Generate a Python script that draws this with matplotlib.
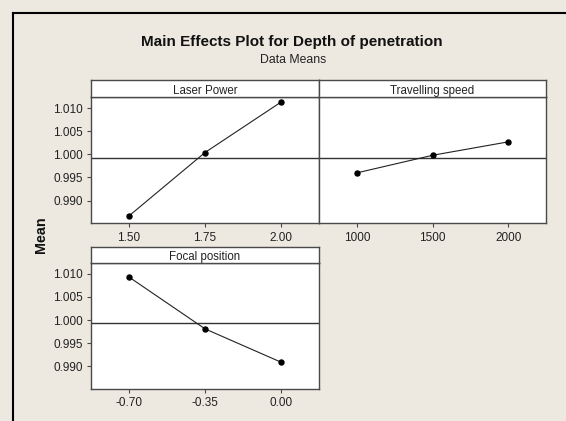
import matplotlib
matplotlib.use('Agg')
import matplotlib.pyplot as plt
from matplotlib.lines import Line2D

plt.rcParams['font.family'] = ['Liberation Sans', 'DejaVu Sans']

# data means
laser_power = [1.50, 1.75, 2.00]
laser_means = [0.9867, 1.0004, 1.0113]

speed = [1000, 1500, 2000]
speed_means = [0.9960, 0.9998, 1.0027]

focal = [-0.70, -0.35, 0.00]
focal_means = [1.0093, 0.9981, 0.9909]

laser_ticks = ['1.50', '1.75', '2.00']
speed_ticks = ['1000', '1500', '2000']
focal_ticks = ['-0.70', '-0.35', '0.00']

y_ticks = [0.990, 0.995, 1.000, 1.005, 1.010]
grand_mean = 0.9993

bg = '#EDE9E0'
edge = '#4a4a4a'

W, H = 566, 421
fig = plt.figure(figsize=(W / 100, H / 100), dpi=100, facecolor=bg)


def box(x0, y0, x1, y1):
    # pixel box (top-left origin) -> figure fraction rect
    return [x0 / W, (H - y1) / H, (x1 - x0) / W, (y1 - y0) / H]


def strip(rect, label):
    s = fig.add_axes(rect)
    s.set_facecolor('white')
    s.set_xticks([])
    s.set_yticks([])
    for sp in s.spines.values():
        sp.set_color(edge)
        sp.set_linewidth(1.0)
    s.text(0.5, 0.42, label, ha='center', va='center_baseline', fontsize=8.3,
           color='#222222', transform=s.transAxes)
    return s


def panel(rect, x, y, xticks, xlabels, xlim, show_y=True):
    ax = fig.add_axes(rect)
    ax.set_facecolor('white')
    ax.axhline(grand_mean, color='#333333', lw=1.0, zorder=1)
    ax.plot(x, y, color='#222222', lw=0.8, marker='o', ms=3.6,
            mfc='black', mec='black', zorder=3)
    ax.set_xlim(*xlim)
    ax.set_ylim(0.9851, 1.0124)
    ax.set_xticks(xticks)
    ax.set_xticklabels(xlabels)
    ax.set_yticks(y_ticks)
    ax.set_yticklabels(['%.3f' % v for v in y_ticks])
    ax.tick_params(axis='both', direction='out', length=3, width=0.8,
                   color=edge, labelsize=8.5, labelcolor='#222222', pad=3)
    if not show_y:
        ax.tick_params(axis='y', left=False, labelleft=False)
    for sp in ax.spines.values():
        sp.set_color(edge)
        sp.set_linewidth(1.0)
    return ax


ax1 = panel(box(91, 97, 319, 223.3), laser_power, laser_means,
            laser_power, laser_ticks, (1.375, 2.125))
strip(box(91, 80, 319, 97), 'Laser Power')

ax2 = panel(box(319, 97, 546, 223.3), speed, speed_means,
            speed, speed_ticks, (750, 2250), show_y=False)
strip(box(319, 80, 546, 97), 'Travelling speed')

ax3 = panel(box(91, 262.7, 319, 389), focal, focal_means,
            focal, focal_ticks, (-0.875, 0.175))
strip(box(91, 246.7, 319, 262.7), 'Focal position')

fig.text(292 / W, 1 - 42 / H, 'Main Effects Plot for Depth of penetration',
         ha='center', va='center', fontsize=11, fontweight='bold', color='#111111')
fig.text(293 / W, 1 - 60 / H, 'Data Means', ha='center', va='center',
         fontsize=8.8, color='#222222')
fig.text(40.5 / W, 1 - 235 / H, 'Mean', ha='center', va='center', rotation=90,
         fontsize=10.3, fontweight='bold', color='#111111')

# outer frame (only left and top edges visible in the crop)
fig.add_artist(Line2D([12.5 / W, 12.5 / W], [0, 1 - 12.5 / H],
                      transform=fig.transFigure, color='black', lw=1.5))
fig.add_artist(Line2D([12.5 / W, 1], [1 - 12.5 / H, 1 - 12.5 / H],
                      transform=fig.transFigure, color='black', lw=1.5))

fig.savefig('out.png', dpi=100, facecolor=bg)
